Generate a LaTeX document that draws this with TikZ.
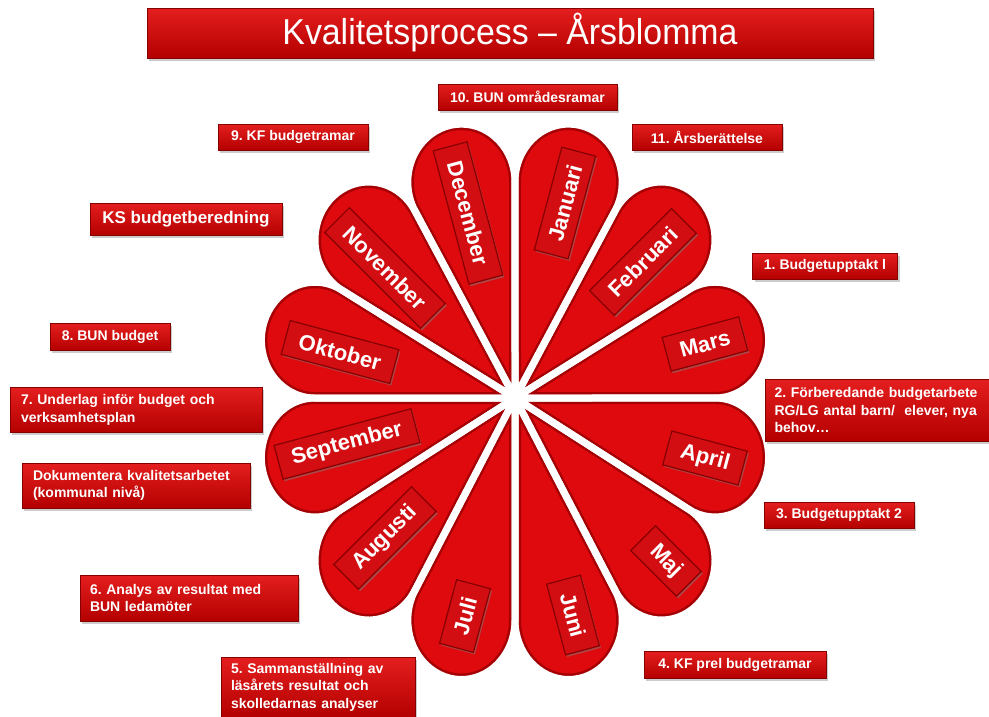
\documentclass[tikz,border=0pt]{standalone}
\usepackage{fontspec}
\setmainfont{Liberation Sans}
\usetikzlibrary{shadows}
\frenchspacing
\definecolor{petalred}{RGB}{222,10,14}
\definecolor{rimred}{RGB}{165,0,4}
\definecolor{boxtop}{RGB}{228,30,30}
\definecolor{boxbot}{RGB}{180,0,0}
\definecolor{lblred}{RGB}{210,14,18}
\definecolor{lbledge}{RGB}{135,0,0}
\newcommand\petalpath[1]{(0,0) -- ({#1-15}:200) arc[start angle={#1-105}, end angle={#1+105}, radius=53.6] -- cycle}
\tikzset{
  infobox/.style={draw=lbledge, line width=0.5pt, top color=boxtop, bottom color=boxbot,
    text=white, font=\bfseries\fontsize{14}{17.5}\selectfont,
    drop shadow={shadow xshift=2pt, shadow yshift=-2.5pt, opacity=0.4},
    inner xsep=4pt, inner ysep=2pt, align=left},
  monthbox/.style={draw=lbledge, line width=1.2pt, fill=lblred, text=white,
    font=\bfseries\fontsize{22}{25}\selectfont, minimum height=35pt, inner xsep=14pt,
    drop shadow={shadow xshift=1.5pt, shadow yshift=-2pt, opacity=0.5}},
  titlebox/.style={draw=lbledge, line width=0.5pt, top color=boxtop, bottom color=boxbot,
    text=white, font=\fontsize{36}{40}\selectfont, minimum width=726pt, minimum height=50pt,
    drop shadow={shadow xshift=2pt, shadow yshift=-3pt, opacity=0.4}},
}
\begin{document}
\begin{tikzpicture}[x=1pt, y=-1pt]
\useasboundingbox (0,0) rectangle (989,716);
\fill[white] (0,0) rectangle (989,716);
\coordinate (ctr) at (515,398);
% petals: fill and rim
\begin{scope}[shift={(ctr)}, yscale=-1.08]
  \foreach \a in {15,45,...,165} {\fill[petalred] \petalpath{\a};}
  \foreach \a in {15,45,...,165} {\begin{scope}\clip \petalpath{\a}; \draw[rimred, line width=12pt] \petalpath{\a};\end{scope}}
\end{scope}
\begin{scope}[shift={(ctr)}, yscale=-1.11]
  \foreach \a in {195,225,...,345} {\fill[petalred] \petalpath{\a};}
  \foreach \a in {195,225,...,345} {\begin{scope}\clip \petalpath{\a}; \draw[rimred, line width=12pt] \petalpath{\a};\end{scope}}
\end{scope}
% white gaps
\begin{scope}[shift={(ctr)}, yscale=-1.08]
  \foreach \a in {15,45,...,165} {\draw[white, line width=7pt, line join=round] \petalpath{\a};}
\end{scope}
\begin{scope}[shift={(ctr)}, yscale=-1.11]
  \foreach \a in {195,225,...,345} {\draw[white, line width=7pt, line join=round] \petalpath{\a};}
\end{scope}
% month labels
\node[monthbox, rotate=75]  (jan) at (565,203) {Januari};
\node[monthbox, rotate=45]  (feb) at (643,262) {Februari};
\node[monthbox, rotate=15]  (mar) at (705,344) {Mars};
\node[monthbox, rotate=-15] (apr) at (705,458) {April};
\node[monthbox, rotate=-45] (maj) at (666,561) {Maj};
\node[monthbox, rotate=-75] (jun) at (573,615) {Juni};
\node[monthbox, rotate=75]  (jul) at (465,616) {Juli};
\node[monthbox, rotate=45]  (aug) at (385,538) {Augusti};
\node[monthbox, rotate=15]  (sep) at (347,444) {September};
\node[monthbox, rotate=-15] (okt) at (340,352) {Oktober};
\node[monthbox, rotate=-45] (nov) at (385,268) {November};
\node[monthbox, rotate=-75, minimum width=138pt] (dec) at (468,213) {December};
% title
\node[titlebox] (title) at (510,33) {\scalebox{0.94}[1]{Kvalitetsprocess – Årsblomma}};
% info boxes
\node[infobox, minimum width=179pt, minimum height=26pt, align=center] (b10) at (527.5,97) {10. BUN områdesramar};
\node[infobox, minimum width=150pt, minimum height=26pt, align=center] (b9) at (293,137) {9. KF budgetramar};
\node[infobox, minimum width=150pt, minimum height=26pt, align=center] (b11) at (707,137) {11. Årsberättelse};
\node[infobox, minimum width=192pt, minimum height=32pt, align=center, font=\bfseries\fontsize{17}{20}\selectfont] (bks) at (186,219) {KS budgetberedning};
\node[infobox, minimum width=145pt, minimum height=26pt, align=center] (b1) at (825,266) {1. Budgetupptakt l};
\node[infobox, minimum width=120pt, minimum height=27pt, align=center] (b8) at (110,337) {8. BUN budget};
\node[infobox, minimum width=252pt, minimum height=45pt, text width=230pt] (b7) at (136,410) {7. Underlag inför budget och\\verksamhetsplan};
\node[infobox, minimum width=224pt, minimum height=62pt, text width=205pt] (b2) at (877,410) {2. Förberedande budgetarbete\\RG/LG antal barn/~ elever, nya\\behov…};
\node[infobox, minimum width=228pt, minimum height=45pt, text width=206pt] (bdok) at (136,485.5) {Dokumentera kvalitetsarbetet\\(kommunal nivå)};
\node[infobox, minimum width=150pt, minimum height=26pt, align=center] (b3) at (839,515) {3. Budgetupptakt 2};
\node[infobox, minimum width=218pt, minimum height=46pt, text width=198pt] (b6) at (189,598) {6. Analys av resultat med\\BUN ledamöter};
\node[infobox, minimum width=182pt, minimum height=27pt, align=center] (b4) at (735,665) {4. KF prel budgetramar};
\node[infobox, minimum width=194pt, minimum height=60pt, text width=174pt] (b5) at (318,687) {5. Sammanställning av\\läsårets resultat och\\skolledarnas analyser};
\end{tikzpicture}
\end{document}
